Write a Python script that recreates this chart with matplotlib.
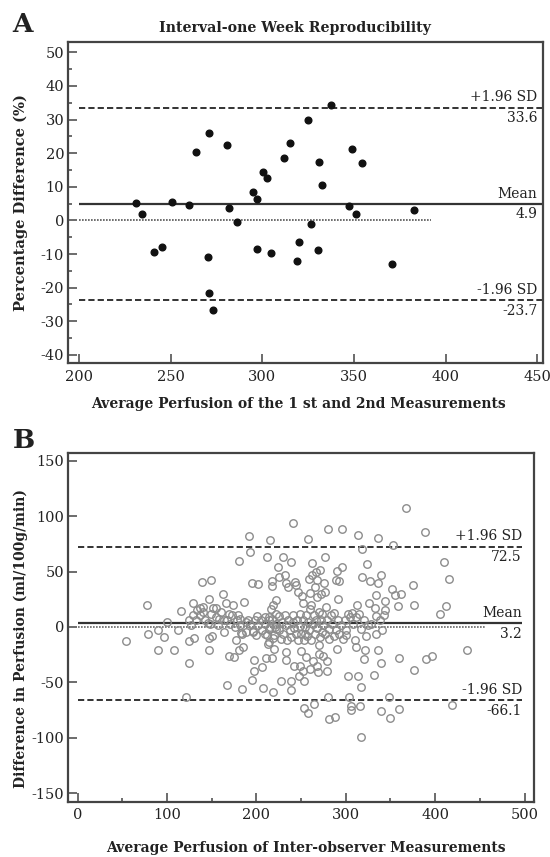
import matplotlib
matplotlib.use("Agg")
import matplotlib.pyplot as plt
from matplotlib.ticker import MultipleLocator

plt.rcParams['font.family'] = ['DejaVu Serif']
plt.rcParams['axes.unicode_minus'] = False

# Panel A: interval-one week reproducibility
a_avg = [231.2, 234.5, 240.8, 245.2, 250.6, 260.2, 263.8, 270.7, 270.5, 270.9,
         273.2, 280.5, 282.0, 286.2, 294.8, 296.9, 297.3, 300.6, 302.3, 304.8,
         311.7, 315.3, 319.0, 320.1, 324.7, 326.4, 330.5, 331.0, 332.6, 337.4,
         347.3, 348.9, 351.0, 354.2, 370.5, 382.4]
a_diff = [5.3, 1.8, -9.4, -7.9, 5.6, 4.6, 20.4, 26.1, -10.8, -21.6,
          -26.6, 22.5, 3.8, -0.5, 8.4, 6.4, -8.6, 14.4, 12.7, -9.6,
          18.6, 22.9, -12.0, -6.4, 29.9, -1.1, -8.8, 17.3, 10.4, 34.3,
          4.3, 21.4, 2.0, 17.0, -13.0, 3.0]
a_mean, a_upper, a_lower = 4.9, 33.6, -23.7

# Panel B: inter-observer agreement
b_avg = [54.5, 77.5, 78.3, 90.0, 90.0, 96.8, 100.0, 107.5,
         112.6, 116.2, 125.0, 125.0, 125.0, 127.3, 128.9, 130.8, 128.9, 134.0, 137.5, 138.7,
         140.7, 121.0, 146.6, 149.4, 146.6, 146.6, 150.6, 149.8, 145.5,
         155.0, 158.5, 162.5, 163.6, 166.4, 167.0, 169.0, 167.0, 169.6, 173.5,
         175.0, 177.5, 180.0, 181.0, 180.6, 182.4, 184.2, 185.4, 186.0, 188.5, 181.4,
         191.7, 192.9, 191.0, 195.7, 196.4, 197.2, 197.2, 195.7, 200.0, 201.2,
         202.0, 206.7, 207.5, 210.0, 210.7, 212.3, 213.4, 215.8, 216.2, 217.0,
         217.8, 218.0, 218.6, 218.2, 219.8, 221.7, 223.7, 225.7, 221.7, 213.8,
         209.9, 215.8, 221.7, 219.8, 214.6,
         228.0, 230.4, 231.6, 232.8, 232.8, 232.8, 235.6, 238.7, 238.7, 238.7,
         241.5, 242.3, 243.5, 244.7, 246.2, 247.4, 248.6, 250.2, 251.4, 251.8,
         253.4, 252.6, 253.8, 254.2, 255.3, 257.3, 258.1, 258.5, 259.7, 260.5,
         261.3, 262.5, 262.5, 263.6, 264.4, 265.2,
         266.8, 267.6, 268.4, 268.4, 269.2, 270.0, 270.0, 271.1, 272.3, 273.9,
         275.1, 276.0, 277.0, 277.0, 278.7, 279.0, 280.2, 281.0, 280.2, 281.0,
         288.9, 289.7, 291.3, 290.5, 292.0, 295.3, 287.7, 286.9, 296.1, 296.9,
         300.0, 302.8, 303.6, 304.7, 305.5,
         305.9, 307.5, 310.7, 311.5, 313.0, 313.4, 313.4, 314.6, 315.8, 316.6,
         317.4, 318.6, 318.6, 320.6, 321.7, 322.5, 323.7, 324.5, 325.7, 327.7,
         331.6, 332.4, 333.6, 334.4, 335.6, 335.6, 336.4, 339.5, 339.5, 339.5,
         340.3, 342.3, 343.5,
         348.2, 349.4, 351.4, 353.4, 355.3, 358.1, 359.3, 360.1, 361.3, 375.1,
         375.9, 375.9, 367.2,
         388.9, 389.7, 396.0, 405.5, 409.5, 412.6, 415.4, 418.6, 435.2,
         188.1, 193.3, 196.0, 198.0, 202.0, 205.1, 206.7, 209.9, 211.9, 213.8,
         214.6, 217.8, 218.6, 220.9, 221.7, 224.9, 225.7, 227.7, 228.9, 230.4,
         231.6, 233.6, 234.4, 235.6, 237.5, 238.3, 240.7, 241.5, 242.3, 243.9,
         245.5, 246.2, 248.6, 249.4, 250.2, 251.8, 253.4, 254.5, 255.7, 256.5,
         258.1, 259.3, 260.5, 261.3, 263.2, 264.4, 265.2, 267.2, 268.4, 270.0,
         271.1, 272.3, 273.9, 275.1, 277.1, 277.9, 279.4, 281.0, 283.0, 285.0,
         287.0, 288.9, 290.9, 292.9, 294.9, 298.8, 300.8, 302.8, 308.7, 311.9,
         316.6, 320.6, 328.5, 334.4, 338.3, 344.3,
         132.8, 136.8, 140.7, 142.7, 148.6, 151.4, 154.5, 157.7, 160.5, 164.4,
         170.4, 172.3, 176.3, 178.3, 182.2, 184.2]
b_diff = [-12.7, 19.4, -6.4, -3.0, -20.6, -8.8, 4.8, -20.6,
          -3.0, 14.8, -32.7, -12.7, 6.0, 1.8, 21.5, -9.7, 10.6, 15.0, 17.3, 40.6,
          17.9, -63.0, 25.5, 42.4, -9.7, -20.6, -8.5, 11.5, 3.9,
          17.3, 7.6, 29.7, -4.8, 21.8, 6.0, 12.0, -52.4, -26.4, 19.4,
          -27.3, -12.0, 10.6, 59.7, -21.2, -5.5, -56.0, -18.2, 22.7, -4.8, 7.6,
          82.1, 67.3, 6.0, 39.4, -4.0, -29.7, -40.0, -47.9, -7.3, 9.7,
          38.8, -35.8, -55.2, 3.0, -27.9, 63.0, -15.8, 78.8, 15.8, -27.9,
          41.5, 37.0, -58.2, 19.7, -7.6, 24.2, 54.5, 45.5, 12.1, 9.1,
          -6.1, 0.0, -1.5, -19.7, -13.6,
          -48.5, 62.7, 46.7, 39.4, -22.4, -29.7, 36.4, 58.2, -48.5, -56.4,
          93.9, -34.8, 40.9, 37.9, 31.8, -44.2, -34.8, -21.8, 27.9, -39.4,
          -49.1, 21.2, -72.7, -6.0, -27.3, -77.6, 79.7, 43.0, -37.9, 30.9,
          19.7, 57.6, 47.0, -30.3, -69.7, 36.4,
          50.0, 27.3, 42.4, -34.8, -40.9, -16.1, -24.8, 51.5, 29.7, -4.5,
          -25.8, 39.4, 63.0, 32.0, -40.0, -30.3, -63.0, -83.3, 88.8, -10.6,
          42.4, 50.9, 24.8, -20.3, 41.8, 53.9, -81.2, -8.5, 88.5, -10.6,
          -7.6, -44.5, -63.6, 9.1, -71.2,
          -75.2, 12.7, -12.1, -18.2, 19.7, -44.5, 83.3, 12.1, -71.5, -54.5,
          -99.4, 70.3, 45.5, -28.8, -20.6, -8.5, 56.7, 1.5, 21.8, 41.2,
          -43.3, 16.7, 9.7, 28.8, 39.4, -20.6, 80.6, -75.8, -32.7, 47.0,
          -3.0, 11.2, 23.3,
          -63.0, -82.1, 34.5, 73.9, 28.8, 18.8, -27.9, -74.2, 29.7, 37.9,
          19.4, -38.8, 107.6,
          85.5, -28.8, -26.4, 11.5, 58.8, 19.1, 43.3, -70.3, -20.6,
          4.5, 3.0, -4.8, 6.1, 1.5, 6.7, -2.4, 9.1, -7.6, 6.1,
          -1.5, 7.6, -9.7, 0.0, 3.0, 9.7, -2.4, -10.6, 4.5, -6.1,
          10.6, 1.5, -12.1, 6.7, -3.0, -9.1, 4.5, 10.6, -0.6, -6.1,
          6.1, -12.1, 0.6, 12.1, -6.1, 6.1, -12.1, 0.0, 10.6, -8.5,
          4.5, -2.4, 15.8, -12.1, 3.0, 10.6, -6.1, 6.7, -0.6, 13.6,
          -9.1, 6.1, 12.1, 1.5, -6.1, 18.2, 6.1, -1.5, 10.6, 3.0,
          12.7, -3.0, 6.1, -6.1, 1.5, 6.1, -2.4, 12.1, 3.0, 9.1,
          -1.5, 6.1, 3.0, -6.1, 6.1, 15.2,
          6.1, 10.6, 13.6, 6.7, 3.0, 16.7, 9.1, 1.5, 13.6, 6.7,
          3.0, 10.6, 0.0, 6.1, 1.5, -6.1]
b_mean, b_upper, b_lower = 3.2, 72.5, -66.1

LINE = '#333333'
TEXT = '#222222'
W, H = 550, 857


def style_axes(ax):
    for sp in ax.spines.values():
        sp.set_linewidth(1.6)
        sp.set_color('#444444')
    ax.tick_params(which='both', direction='in', color='#444444', width=1.1,
                   labelsize=10.5, labelcolor=TEXT, top=False, right=False)
    ax.tick_params(which='major', length=6.5)
    ax.tick_params(which='minor', length=3)
    ax.tick_params(axis='x', pad=4.5)
    ax.tick_params(axis='y', pad=3)


def limit_labels(ax, x_end, value, name):
    ax.annotate(name, (x_end, value), xytext=(0, 2.5), textcoords='offset points',
                ha='right', va='bottom', fontsize=10, color=TEXT)
    ax.annotate('{:.1f}'.format(value), (x_end, value), xytext=(0, -2.5),
                textcoords='offset points', ha='right', va='top',
                fontsize=10, color=TEXT)


fig = plt.figure(figsize=(W / 100, H / 100), dpi=100)

# ---- Panel A ----
axA = fig.add_axes([68.3 / W, 1 - 363.3 / H, (543 - 68.3) / W, (363.3 - 42.3) / H])
axA.set_xlim(194.2, 453)
axA.set_ylim(-42.5, 53.0)
axA.xaxis.set_major_locator(MultipleLocator(50))
axA.yaxis.set_major_locator(MultipleLocator(10))
axA.yaxis.set_minor_locator(MultipleLocator(5))
style_axes(axA)

axA.hlines([a_upper, a_lower], 200, 453, colors=LINE, linestyles=(0, (3.2, 1.6)), lw=1.4)
axA.hlines(a_mean, 200, 453, colors=LINE, lw=1.6)
axA.hlines(0, 200, 392, colors='#555555', linestyles=(0, (1, 0.8)), lw=1.2)
axA.plot(a_avg, a_diff, 'o', color='#111111', ms=4.8, zorder=3)

limit_labels(axA, 450, a_upper, '+1.96 SD')
limit_labels(axA, 450, a_mean, 'Mean')
limit_labels(axA, 450, a_lower, '-1.96 SD')

fig.text(295 / W, 1 - 28 / H, 'Interval-one Week Reproducibility', ha='center',
         va='center', fontsize=10.2, fontweight='bold', color=TEXT)
fig.text(23 / W, 1 - 24 / H, 'A', ha='center', va='center', fontsize=19,
         fontweight='bold', color=TEXT)
fig.text(298 / W, 1 - 404 / H, 'Average Perfusion of the 1 st and 2nd Measurements',
         ha='center', va='center', fontsize=10, fontweight='bold', color=TEXT)
fig.text(20.5 / W, 1 - 203 / H, 'Percentage Difference (%)', rotation=90,
         ha='center', va='center', fontsize=10.5, fontweight='bold', color=TEXT)

# ---- Panel B ----
axB = fig.add_axes([68.3 / W, 1 - 801.7 / H, (534 - 68.3) / W, (801.7 - 452.7) / H])
axB.set_xlim(-10.3, 510.6)
axB.set_ylim(-157.6, 157.2)
axB.xaxis.set_major_locator(MultipleLocator(100))
axB.xaxis.set_minor_locator(MultipleLocator(50))
axB.yaxis.set_major_locator(MultipleLocator(50))
style_axes(axB)

axB.hlines([b_upper, b_lower], 0, 497, colors=LINE, linestyles=(0, (3.2, 1.6)), lw=1.4)
axB.hlines(b_mean, 0, 497, colors=LINE, lw=1.6)
axB.hlines(0, 0, 457, colors='#666666', linestyles=(0, (1, 0.8)), lw=1.2)
axB.plot(b_avg, b_diff, 'o', mfc='none', mec='#8c8c8c', mew=1.0, ms=5.4, zorder=3)

limit_labels(axB, 497, b_upper, '+1.96 SD')
limit_labels(axB, 497, b_mean, 'Mean')
limit_labels(axB, 497, b_lower, '-1.96 SD')

fig.text(24 / W, 1 - 440 / H, 'B', ha='center', va='center', fontsize=19,
         fontweight='bold', color=TEXT)
fig.text(306 / W, 1 - 848 / H, 'Average Perfusion of Inter-observer Measurements',
         ha='center', va='center', fontsize=10, fontweight='bold', color=TEXT)
fig.text(20.5 / W, 1 - 638 / H, 'Difference in Perfusion (ml/100g/min)', rotation=90,
         ha='center', va='center', fontsize=10, fontweight='bold', color=TEXT)

fig.savefig('out.png', dpi=100)
